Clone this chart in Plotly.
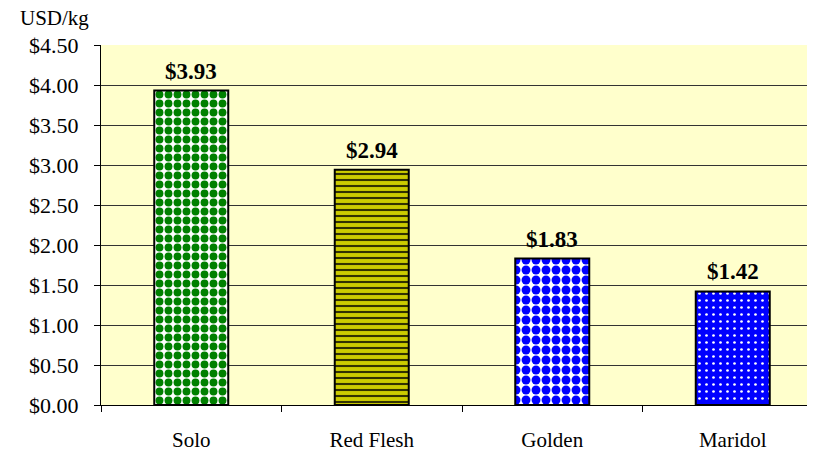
import plotly.graph_objects as go

categories = ["Solo", "Red Flesh", "Golden", "Maridol"]
prices = [3.93, 2.94, 1.83, 1.42]
labels = ["$3.93", "$2.94", "$1.83", "$1.42"]
y_ticks = [0, 0.5, 1.0, 1.5, 2.0, 2.5, 3.0, 3.5, 4.0, 4.5]

SERIF = "Liberation Serif"

patterns = [
    dict(shape=".", fgcolor="#008000", bgcolor="#FFFFFF", size=9, solidity=0.6, fillmode="replace"),
    dict(shape="-", fgcolor="#333300", bgcolor="#CCCC00", size=6, solidity=0.35, fillmode="replace"),
    dict(shape=".", fgcolor="#0000FF", bgcolor="#FFFFFF", size=10, solidity=0.62, fillmode="replace"),
    dict(shape=".", fgcolor="#FFFFFF", bgcolor="#0000FF", size=7, solidity=0.12, fillmode="replace"),
]

fig = go.Figure()
for i, cat in enumerate(categories):
    fig.add_trace(go.Bar(
        x=[cat], y=[prices[i]],
        width=0.41,
        marker=dict(pattern=patterns[i], line=dict(color="black", width=2)),
        showlegend=False,
        hoverinfo="skip",
    ))

annotations = [dict(text="USD/kg", x=-0.115, y=1.075, xref="paper", yref="paper",
                    showarrow=False, font=dict(family=SERIF, size=21, color="black"),
                    xanchor="left", yanchor="middle")]
for i, cat in enumerate(categories):
    annotations.append(dict(
        x=cat, y=prices[i], xref="x", yref="y", text="<b>" + labels[i] + "</b>", showarrow=False,
        yanchor="bottom", yshift=5,
        font=dict(family=SERIF, size=23, color="black"),
    ))

fig.update_layout(
    width=815, height=457,
    margin=dict(l=93, r=0, t=37, b=60),
    paper_bgcolor="white",
    plot_bgcolor="#FFFFCC",
    annotations=annotations,
)

fig.update_xaxes(
    range=[-0.5, 3.5], automargin=False,
    showline=True, linecolor="black", linewidth=1,
    ticks="outside", tickson="boundaries", ticklen=6, tickcolor="black",
    tickfont=dict(family=SERIF, size=21, color="black"), showgrid=False, ticklabelstandoff=16,
)
fig.update_yaxes(
    range=[0, 4.5], tickvals=y_ticks, tickformat="$.2f", automargin=False,
    showline=True, linecolor="black", linewidth=1,
    ticks="outside", ticklen=6, tickcolor="black",
    showgrid=True, gridcolor="#333333", gridwidth=1,
    tickfont=dict(family=SERIF, size=22, color="black"), zeroline=False, ticklabelstandoff=11,
)

fig.write_html("out.html")
